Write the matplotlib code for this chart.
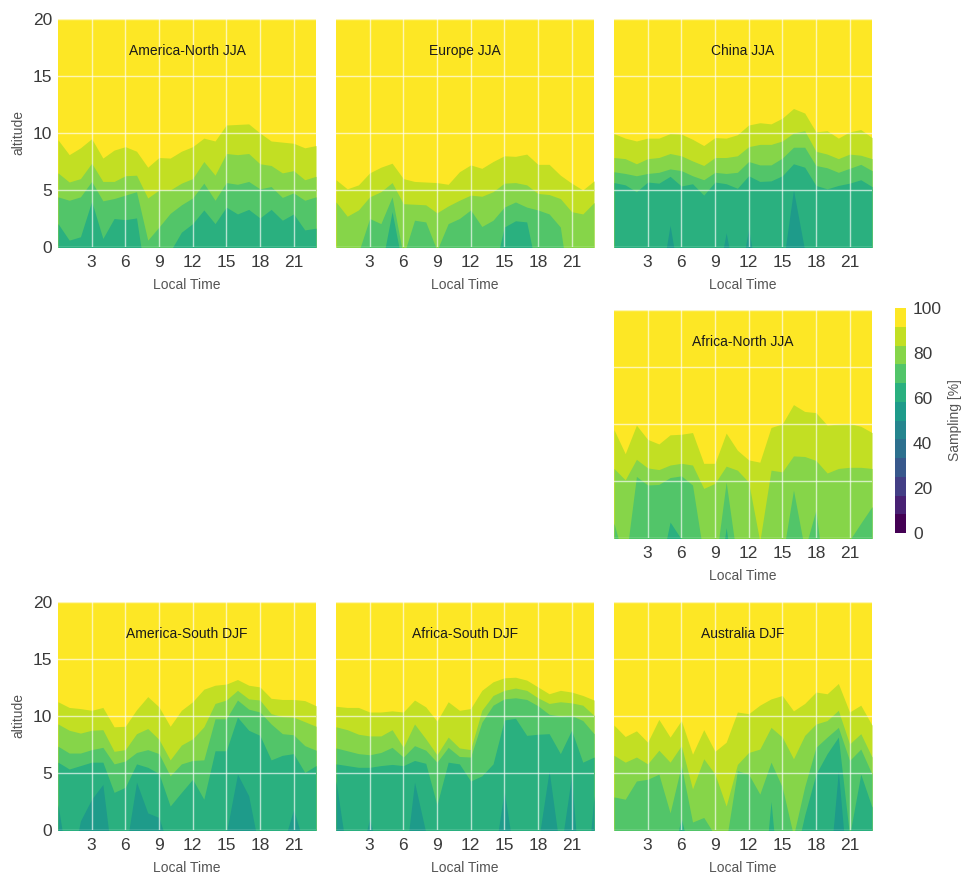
import numpy as np
import matplotlib
matplotlib.use("Agg")
import matplotlib.pyplot as plt
from matplotlib.colors import BoundaryNorm
from matplotlib.cm import ScalarMappable

plt.rcParams['font.family'] = ['Liberation Sans', 'DejaVu Sans']

hours = np.arange(24)
levels = np.linspace(0, 100, 13)

# Altitude (km) at which sampling crosses 58.3 (b7), 66.7 (b8), 75 (b9),
# 83.3 (b10) and 91.7 % (b11) for each local hour 0..23; negative heights
# mean that level lies below the surface at that hour.
america_north = dict(
    b11=[9.4, 8.1, 8.7, 9.5, 7.8, 8.5, 8.8, 8.4, 7.0, 7.85, 7.8, 8.4, 8.8, 9.55, 9.3, 10.7, 10.75, 10.8, 10.0, 9.3, 9.2, 9.1, 8.7, 8.9],
    b10=[6.5, 5.7, 6.0, 7.35, 5.75, 5.75, 6.25, 6.3, 4.3, 5.0, 5.0, 5.6, 6.0, 7.5, 6.3, 8.2, 8.1, 8.2, 7.3, 7.15, 6.5, 6.7, 5.9, 6.2],
    b9=[4.4, 4.1, 4.4, 5.75, 4.05, 4.25, 4.55, 4.85, 0.6, 1.75, 2.95, 3.7, 4.3, 5.6, 4.1, 5.65, 5.5, 5.75, 5.1, 5.3, 4.35, 4.75, 4.1, 4.4],
    b8=[2.05, 0.6, 0.9, 4.0, 0.75, 2.5, 2.4, 2.55, -4, -3, -0.4, 1.3, 2.05, 3.25, 2.05, 3.5, 2.9, 3.3, 2.55, 3.3, 2.35, 2.9, 1.5, 1.65],
    b7=[-6] * 24,
)
europe = dict(
    b11=[5.9, 5.1, 5.45, 6.5, 7.0, 7.35, 6.0, 5.75, 5.7, 5.65, 5.5, 6.6, 7.2, 6.9, 7.5, 8.0, 7.95, 8.15, 7.25, 7.25, 6.3, 5.6, 5.0, 5.8],
    b10=[3.95, 2.7, 3.25, 4.4, 4.85, 5.65, 3.8, 3.75, 3.7, 3.0, 3.6, 4.1, 4.55, 4.45, 4.85, 5.6, 5.65, 5.45, 4.7, 4.6, 4.25, 3.1, 2.9, 3.9],
    b9=[-0.3, -2.0, -0.5, 2.5, 2.05, 4.4, -0.8, 2.35, 2.2, -0.3, 2.05, 2.5, 3.25, 1.8, 2.35, 3.5, 3.95, 3.5, 3.25, 2.9, 1.75, -5.0, -2.0, -1.0],
    b8=[-3, -3, -3, -2, -2, 3.1, -2, -3, -3, -3, -3, -3, -3, -3, -2.5, 1.75, 2.3, 2.2, -2.5, -3, -3, -6, -6, -3],
    b7=[-8] * 24,
)
china = dict(
    b11=[9.95, 9.55, 9.3, 9.55, 9.55, 9.95, 9.9, 9.45, 8.9, 9.6, 9.55, 9.85, 10.7, 10.9, 10.8, 11.3, 12.15, 11.75, 10.1, 10.2, 9.55, 10.1, 10.3, 9.6],
    b10=[7.85, 7.75, 7.3, 7.75, 7.85, 8.2, 8.0, 7.55, 7.15, 7.85, 7.85, 8.0, 8.8, 9.0, 9.0, 9.3, 10.0, 10.2, 8.4, 8.15, 7.75, 8.15, 8.05, 7.75],
    b9=[6.6, 6.45, 6.25, 6.45, 6.55, 6.85, 6.7, 6.25, 5.9, 6.55, 6.45, 6.55, 7.5, 7.2, 7.2, 7.8, 8.75, 8.75, 7.15, 6.95, 6.55, 6.9, 7.25, 6.7],
    b8=[5.65, 5.45, 4.85, 5.7, 5.6, 6.2, 5.35, 5.55, 4.55, 5.7, 5.55, 5.15, 6.25, 5.75, 5.8, 6.25, 7.3, 7.0, 5.4, 5.1, 5.4, 5.6, 5.9, 5.3],
    b7=[-4, -4, -4, -4, -4, 1.9, -4, -4, -4, -4, 1.25, -4, 1.6, -4, -4, -2, 5.0, -0.3, -4, -4, -4, -4, -4, -4],
)
africa_north = dict(
    b11=[9.5, 7.4, 9.9, 8.65, 8.25, 9.05, 9.1, 9.25, 6.55, 6.55, 9.2, 7.7, 6.85, 6.65, 9.7, 10.0, 11.7, 11.1, 11.0, 9.9, 10.0, 10.05, 9.8, 9.25],
    b10=[6.1, 5.1, 6.9, 6.15, 6.0, 6.4, 6.55, 6.4, 4.35, 4.8, 6.3, 5.95, 4.9, -0.3, 5.95, 5.8, 7.2, 7.15, 6.8, 5.7, 6.1, 6.2, 6.2, 6.1],
    b9=[1.3, -2.3, 5.4, 4.65, 4.7, 5.3, 5.45, 4.65, -1.6, -2.6, 4.9, -2.1, -4, -4, -4, -1.8, 4.2, -1.05, 2.45, -5.7, -5, -0.2, 1.3, 2.75],
    b8=[-6, -6, -6, -6, -3.3, 1.4, -0.1, -6, -6, -6, 0.9, -6, -6, -6, -6, -6, -6, -6, -6, -6, -6, -6, -6, -6],
    b7=[-9] * 24,
)
america_south = dict(
    b11=[11.25, 10.75, 10.65, 10.5, 10.75, 9.05, 9.1, 10.55, 11.7, 10.8, 9.1, 10.5, 11.25, 12.35, 12.7, 12.8, 13.2, 12.7, 12.55, 11.55, 11.45, 11.45, 11.35, 10.9],
    b10=[9.3, 8.75, 8.5, 8.75, 8.8, 6.9, 7.05, 8.45, 8.9, 7.95, 6.15, 7.45, 8.0, 9.05, 11.1, 11.4, 12.25, 11.5, 11.4, 10.2, 9.95, 9.9, 9.5, 9.1],
    b9=[7.35, 6.75, 6.75, 7.05, 7.25, 5.8, 6.05, 6.8, 7.05, 6.7, 4.75, 5.8, 6.1, 6.15, 9.75, 9.75, 11.4, 10.6, 10.35, 9.3, 8.45, 8.35, 7.4, 7.0],
    b8=[5.95, 5.35, 5.65, 5.95, 5.95, 3.3, 3.75, 5.8, 5.5, 4.95, 2.1, 3.3, 4.45, 2.7, 6.95, 6.95, 9.9, 8.75, 8.3, 6.15, 6.55, 6.7, 5.05, 5.65],
    b7=[2.25, -4, 0.8, 2.7, 4.0, -4, -2, 4.2, 1.5, 1.1, -2, -2, -3, -3, -3, -0.3, 4.9, 3.0, -2, -3, -1.5, 1.8, -1.5, -3],
)
africa_south = dict(
    b11=[10.85, 10.75, 10.75, 10.35, 10.35, 10.45, 10.35, 11.4, 10.8, 9.55, 11.25, 10.5, 10.65, 12.25, 13.0, 13.35, 13.4, 13.15, 12.55, 11.95, 12.25, 12.1, 11.8, 11.4],
    b10=[9.05, 8.8, 8.4, 8.25, 8.25, 8.8, 7.25, 9.3, 8.0, 6.6, 8.15, 7.2, 7.05, 10.5, 11.8, 12.25, 12.45, 12.25, 11.6, 11.1, 11.25, 11.15, 10.95, 10.05],
    b9=[7.2, 6.95, 6.7, 6.6, 6.8, 7.25, 6.4, 7.4, 7.0, 5.95, 7.25, 6.45, 6.4, 9.45, 10.95, 11.5, 11.6, 11.45, 10.9, 10.15, 10.0, 10.05, 9.6, 8.45],
    b8=[5.8, 5.65, 5.5, 5.5, 5.65, 5.75, 5.65, 6.1, 5.85, 2.2, 5.95, 5.8, 4.3, 4.75, 5.8, 9.65, 9.8, 8.3, 8.4, 8.45, 6.7, 8.75, 5.95, 6.4],
    b7=[4.3, -2.3, -3, 1.0, -3, -3, -4.2, 4.2, -0.2, -3, -3, -3, -3, -3, -3, 3.4, -3, -3, -1.3, 5.2, -2, 4.75, -8, 3.0],
)
australia = dict(
    b11=[9.2, 8.2, 8.7, 7.7, 9.7, 8.15, 9.6, 6.65, 8.8, 6.9, 7.7, 10.35, 10.2, 10.95, 11.5, 11.8, 10.45, 11.1, 12.1, 11.95, 12.85, 10.35, 10.95, 9.2],
    b10=[6.55, 5.95, 6.4, 5.8, 7.0, 5.95, 7.4, 3.6, 6.25, 4.9, 2.1, 5.75, 6.8, 7.1, 9.0, 8.15, 6.25, 8.3, 9.3, 9.6, 10.5, 7.55, 8.45, 6.4],
    b9=[2.9, 2.7, 4.3, 4.45, 4.9, 1.5, 5.65, 0.7, 1.1, -0.47, -1.0, 5.2, 4.9, 3.15, 5.95, 3.75, -0.5, 3.8, 7.25, 8.15, 9.0, 6.1, 7.1, 4.9],
    b8=[-3, -3, -3, -3, -3, -3, 1.0, -3, -3, -3, -3, -3, -3, -8, 2.5, -8, -3, 1.3, 4.9, 6.7, 8.15, -0.5, 4.9, 2.0],
    b7=[-6, -6, -6, -6, -6, -6, -6, -6, -6, -6, -6, -6, -6, -6, -6, -6, -6, -6, -6, -6, 5.2, -6, -6, -6],
)

panels = [
    (0, 0, "America-North JJA", america_north),
    (0, 1, "Europe JJA", europe),
    (0, 2, "China JJA", china),
    (1, 2, "Africa-North JJA", africa_north),
    (2, 0, "America-South DJF", america_south),
    (2, 1, "Africa-South DJF", africa_south),
    (2, 2, "Australia DJF", australia),
]

cmap = matplotlib.colormaps['viridis'].resampled(12)
norm = BoundaryNorm(levels, cmap.N)
band_colors = [cmap(i) for i in range(12)]


def draw_sampling(ax, b):
    """Stack the sampling bands: each level fills everything below its crossing height."""
    keys = ['b7', 'b8', 'b9', 'b10', 'b11']
    B = np.array([b[k] for k in keys], float)
    for k in range(B.shape[0] - 2, -1, -1):
        B[k] = np.minimum(B[k], B[k + 1] - 0.05)
    ax.fill_between(hours, -60, 40, color=band_colors[11], lw=0)
    for k in range(B.shape[0] - 1, -1, -1):
        ax.fill_between(hours, -60, B[k], color=band_colors[k + 6], lw=0)


W, H = 962, 874
fig = plt.figure(figsize=(W / 100, H / 100), dpi=100)

col_left = [58, 336, 614]
row_top = [19, 310, 602]
ax_w, ax_h = 258, 228

tick_col = '#3a3a3a'
label_col = '#555555'

for r, c, title, b in panels:
    ax = fig.add_axes([col_left[c] / W, 1 - (row_top[r] + ax_h) / H, ax_w / W, ax_h / H])
    draw_sampling(ax, b)
    ax.set_xlim(0, 23)
    ax.set_ylim(0, 20)
    ax.set_xticks([3, 6, 9, 12, 15, 18, 21])
    ax.set_yticks([0, 5, 10, 15, 20])
    ax.set_axisbelow(False)
    ax.grid(True, color='white', lw=1.0, alpha=0.65)
    for s in ax.spines.values():
        s.set_visible(False)
    ax.tick_params(length=0, labelsize=12.5, colors=tick_col)
    ax.tick_params(axis='x', pad=6)
    ax.tick_params(axis='y', pad=4)
    if c != 0:
        ax.tick_params(labelleft=False)
    else:
        ax.set_ylabel('altitude', fontsize=10, color=label_col)
        ax.yaxis.set_label_coords(-0.128, 0.5)
    ax.set_xlabel('Local Time', fontsize=10, color=label_col)
    ax.xaxis.set_label_coords(0.5, -0.135)
    ax.text(0.5, 0.86, title, transform=ax.transAxes, ha='center', va='center',
            fontsize=10, color='#1a1a1a')

cax = fig.add_axes([895 / W, 1 - 533 / H, 11 / W, 225 / H])
cbar = fig.colorbar(ScalarMappable(norm=norm, cmap=cmap), cax=cax,
                    ticks=[0, 20, 40, 60, 80, 100])
cbar.outline.set_visible(False)
cbar.ax.minorticks_off()
cbar.ax.tick_params(which='both', length=0, labelsize=12.5, colors=tick_col, pad=5)
fig.text(955 / W, 1 - 420 / H, 'Sampling [%]', rotation=90, ha='center', va='center',
         fontsize=10, color=label_col)

fig.savefig('out.png', dpi=100)
